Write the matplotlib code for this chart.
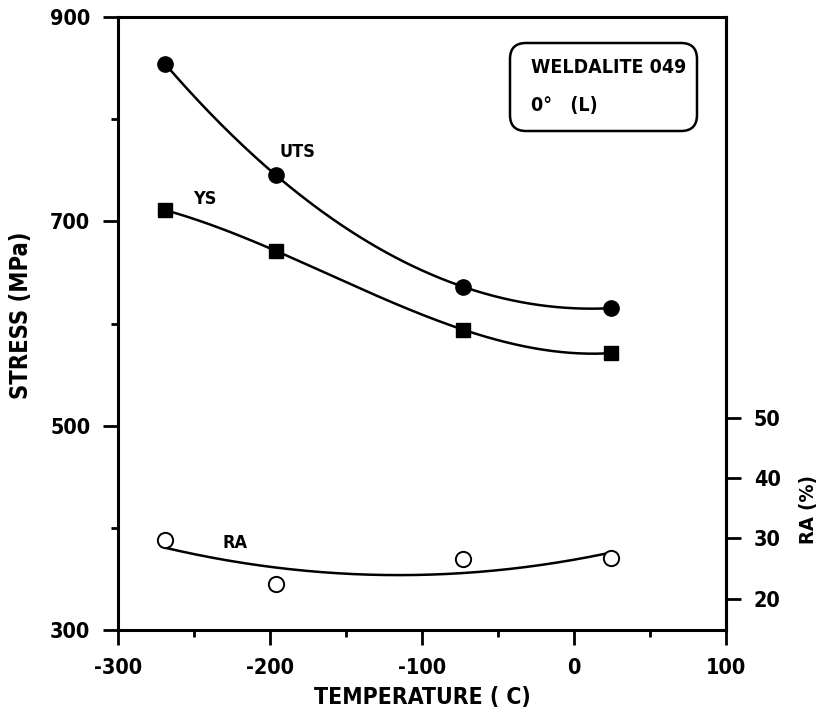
import numpy as np
import matplotlib
matplotlib.use("Agg")
import matplotlib.pyplot as plt
from matplotlib.patches import FancyBboxPatch

plt.rcParams['font.family'] = ['DejaVu Sans']
plt.rcParams['font.stretch'] = 'condensed'
plt.rcParams['font.weight'] = 'bold'
plt.rcParams['axes.unicode_minus'] = False

# test temperatures (C)
temp = [-269, -196, -73, 24]
uts = [854, 745, 636, 615]      # MPa
ys = [711, 671, 594, 571]       # MPa
ra = [29.7, 22.5, 26.5, 26.8]   # %

fig = plt.figure(figsize=(8.26, 7.27), dpi=100)
ax = fig.add_axes([0.1429, 0.1334, 0.7361, 0.8432])

# smooth curves through the points
tt = np.linspace(temp[0], temp[-1], 200)
uts_fit = np.polyval(np.polyfit(temp, uts, 3), tt)
ys_fit = np.polyval(np.polyfit(temp, ys, 3), tt)
ra_fit = np.polyval(np.polyfit(temp, ra, 2), tt)

ax.plot(tt, uts_fit, color='black', lw=1.8)
ax.plot(tt, ys_fit, color='black', lw=1.8)
ax.plot(temp, uts, 'o', color='black', ms=11)
ax.plot(temp, ys, 's', color='black', ms=10.5)

ax.set_xlim(-300, 100)
ax.set_ylim(300, 900)
ax.set_xticks([-300, -200, -100, 0, 100])
ax.set_xticks([-250, -150, -50, 50], minor=True)
ax.set_yticks([300, 500, 700, 900])
ax.set_yticks([400, 600, 800], minor=True)
ax.tick_params(which='major', direction='out', length=11, width=2, labelsize=15.5, pad=9)
ax.tick_params(which='minor', direction='out', length=5, width=2)
ax.tick_params(axis='y', which='both', right=False)
for s in ax.spines.values():
    s.set_linewidth(2.2)

ax.set_xlabel('TEMPERATURE ( C)', fontsize=16.5, fontweight='bold', labelpad=6)
ax.set_ylabel('STRESS (MPa)', fontsize=17, fontweight='bold')
ax.yaxis.set_label_coords(-0.14, 0.514)

ax2 = ax.twinx()
ax2.plot(tt, ra_fit, color='black', lw=1.8)
ax2.plot(temp, ra, 'o', mfc='white', mec='black', mew=1.4, ms=11)
ax2.set_ylim(14.8, 116.5)
ax2.set_yticks([20, 30, 40, 50])
ax2.tick_params(direction='out', length=11, width=2, labelsize=15.5, pad=9)
ax2.spines['right'].set_linewidth(2.2)
ax2.set_ylabel('RA (%)', fontsize=14.5, fontweight='bold', rotation=90)
ax2.yaxis.set_label_coords(1.12, 0.197)

ax.text(-182, 768, 'UTS', fontsize=13, fontweight='bold', ha='center', va='center')
ax.text(-243, 722, 'YS', fontsize=13, fontweight='bold', ha='center', va='center')
ax2.text(-223, 29.3, 'RA', fontsize=13, fontweight='bold', ha='center', va='center')

box = FancyBboxPatch((5.10, 5.96), 1.87, 0.88,
                     boxstyle='round,pad=0,rounding_size=0.16',
                     transform=fig.dpi_scale_trans, fc='white', ec='black',
                     lw=1.8, zorder=3)
ax2.add_patch(box)
ax2.text(0.679, 0.917, 'WELDALITE 049', transform=ax.transAxes, fontsize=14,
         fontweight='bold', ha='left', va='center', zorder=5)
ax2.text(0.679, 0.856, '0\u00b0   (L)', transform=ax.transAxes, fontsize=14,
         fontweight='bold', ha='left', va='center', zorder=5)

fig.savefig('out.png', dpi=100)
